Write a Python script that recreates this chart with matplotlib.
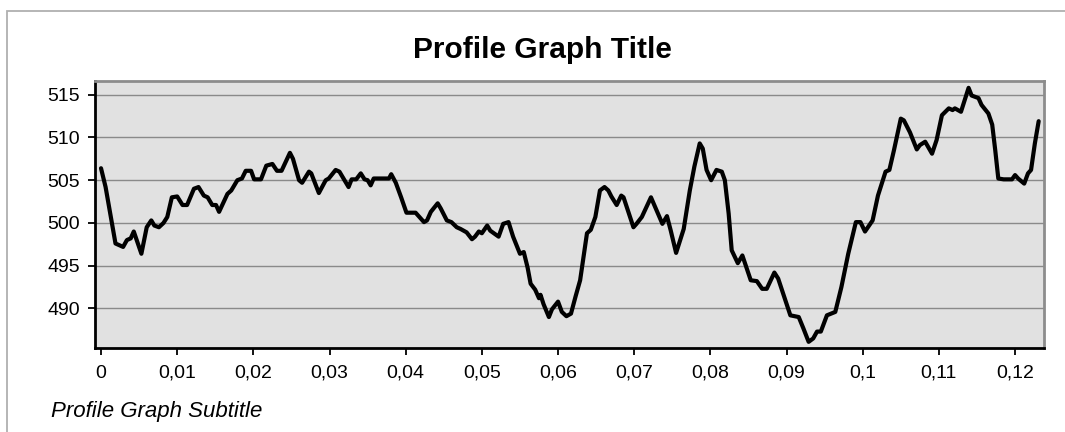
import matplotlib
matplotlib.use("Agg")
import matplotlib.pyplot as plt
from matplotlib.patches import Rectangle
from matplotlib.ticker import FixedLocator, FixedFormatter

# Profile: distance along the line vs. elevation
distance = [
    0.0000, 0.0006, 0.0019, 0.0029, 0.0034, 0.0039, 0.0043, 0.0053, 0.0060, 0.0066,
    0.0070, 0.0076, 0.0082, 0.0087, 0.0093, 0.0100, 0.0107, 0.0113, 0.0122, 0.0128,
    0.0135, 0.0140, 0.0146, 0.0151, 0.0155, 0.0166, 0.0171, 0.0179, 0.0185, 0.0190,
    0.0197, 0.0201, 0.0210, 0.0217, 0.0225, 0.0231, 0.0237, 0.0248, 0.0252, 0.0260,
    0.0264, 0.0273, 0.0276, 0.0286, 0.0295, 0.0299, 0.0308, 0.0313, 0.0325, 0.0329,
    0.0335, 0.0341, 0.0346, 0.0350, 0.0354, 0.0358, 0.0378, 0.0381, 0.0387, 0.0394,
    0.0401, 0.0413, 0.0424, 0.0428, 0.0433, 0.0442, 0.0446, 0.0454, 0.0460, 0.0467,
    0.0472, 0.0480, 0.0487, 0.0491, 0.0496, 0.0500, 0.0507, 0.0511, 0.0522, 0.0528,
    0.0535, 0.0541, 0.0550, 0.0555, 0.0560, 0.0564, 0.0570, 0.0575, 0.0577, 0.0581,
    0.0588, 0.0592, 0.0600, 0.0605, 0.0611, 0.0617, 0.0623, 0.0629, 0.0638, 0.0643,
    0.0649, 0.0655, 0.0661, 0.0666, 0.0670, 0.0677, 0.0683, 0.0686, 0.0699, 0.0703,
    0.0710, 0.0722, 0.0737, 0.0743, 0.0748, 0.0755, 0.0765, 0.0773, 0.0779, 0.0786,
    0.0790, 0.0795, 0.0801, 0.0808, 0.0815, 0.0819, 0.0824, 0.0828, 0.0836, 0.0842,
    0.0848, 0.0853, 0.0861, 0.0868, 0.0874, 0.0884, 0.0889, 0.0905, 0.0916, 0.0922,
    0.0929, 0.0935, 0.0940, 0.0945, 0.0953, 0.0964, 0.0972, 0.0981, 0.0991, 0.0997,
    0.1003, 0.1013, 0.1020, 0.1030, 0.1035, 0.1041, 0.1050, 0.1054, 0.1062, 0.1071,
    0.1075, 0.1082, 0.1091, 0.1097, 0.1104, 0.1113, 0.1118, 0.1121, 0.1129, 0.1135,
    0.1139, 0.1143, 0.1152, 0.1156, 0.1165, 0.1170, 0.1174, 0.1178, 0.1185, 0.1196,
    0.1200, 0.1204, 0.1212, 0.1217, 0.1221, 0.1226, 0.1231,
]
elevation = [
    506.4, 504.2, 497.6, 497.2, 498.0, 498.2, 499.0, 496.4, 499.5, 500.3,
    499.7, 499.5, 500.0, 500.7, 503.0, 503.1, 502.1, 502.1, 504.0, 504.2,
    503.2, 503.0, 502.1, 502.1, 501.3, 503.4, 503.8, 505.0, 505.2, 506.1,
    506.1, 505.1, 505.1, 506.7, 506.9, 506.1, 506.1, 508.2, 507.5, 505.0,
    504.7, 506.0, 505.8, 503.5, 505.0, 505.2, 506.2, 506.0, 504.2, 505.1,
    505.1, 505.8, 505.1, 505.0, 504.4, 505.2, 505.2, 505.7, 504.7, 503.0,
    501.2, 501.2, 500.1, 500.3, 501.3, 502.3, 501.7, 500.3, 500.1, 499.5,
    499.3, 498.9, 498.1, 498.4, 499.0, 498.8, 499.7, 499.1, 498.4, 499.9,
    500.1, 498.4, 496.4, 496.6, 494.8, 492.9, 492.2, 491.2, 491.6, 490.5,
    489.0, 489.9, 490.8, 489.6, 489.1, 489.4, 491.4, 493.3, 498.8, 499.2,
    500.7, 503.8, 504.2, 503.8, 503.1, 502.1, 503.2, 503.0, 499.5, 499.9,
    500.7, 503.0, 499.9, 500.8, 499.1, 496.5, 499.3, 503.8, 506.6, 509.3,
    508.7, 506.2, 505.0, 506.2, 506.0, 505.0, 501.1, 496.8, 495.3, 496.2,
    494.6, 493.3, 493.2, 492.3, 492.3, 494.2, 493.5, 489.2, 489.0, 487.7,
    486.1, 486.5, 487.3, 487.3, 489.2, 489.6, 492.5, 496.4, 500.1, 500.1,
    499.0, 500.3, 503.2, 506.0, 506.2, 508.5, 512.2, 512.0, 510.6, 508.6,
    509.1, 509.5, 508.1, 509.7, 512.6, 513.4, 513.2, 513.4, 513.0, 514.7,
    515.8, 514.9, 514.6, 513.8, 512.8, 511.5, 508.5, 505.2, 505.1, 505.1,
    505.6, 505.2, 504.6, 505.8, 506.2, 509.3, 511.9,
]

x_ticks = [0.0, 0.01, 0.02, 0.03, 0.04, 0.05, 0.06, 0.07, 0.08, 0.09, 0.10, 0.11, 0.12]
x_tick_labels = ["0", "0,01", "0,02", "0,03", "0,04", "0,05", "0,06", "0,07",
                 "0,08", "0,09", "0,1", "0,11", "0,12"]
y_ticks = [490, 495, 500, 505, 510, 515]
y_tick_labels = ["490", "495", "500", "505", "510", "515"]

title = "Profile Graph Title"
subtitle = "Profile Graph Subtitle"

W, H = 1065, 432
plt.rcParams["font.family"] = ["Liberation Sans", "DejaVu Sans"]

fig = plt.figure(figsize=(W / 100, H / 100), dpi=100)
fig.patch.set_facecolor("white")

# outer chart frame
fig.patches.append(Rectangle((7 / W, -0.05), 1.2, 1 - 11 / H + 0.05,
                             transform=fig.transFigure, fill=False,
                             edgecolor="#b0b0b0", linewidth=1.3))

ax = fig.add_axes([95 / W, 1 - 348 / H, (1044 - 95) / W, (348 - 81) / H])
ax.set_facecolor("#e1e1e1")

ax.set_xlim(-0.00079, 0.1238)
ax.set_ylim(485.38, 516.6)

ax.yaxis.grid(True, color="#8a8a8a", linewidth=1.0)
ax.set_axisbelow(True)

ax.plot(distance, elevation, color="black", linewidth=3.0,
        solid_joinstyle="round", solid_capstyle="round", zorder=3)

ax.xaxis.set_major_locator(FixedLocator(x_ticks))
ax.xaxis.set_major_formatter(FixedFormatter(x_tick_labels))
ax.yaxis.set_major_locator(FixedLocator(y_ticks))
ax.yaxis.set_major_formatter(FixedFormatter(y_tick_labels))

ax.tick_params(axis="both", direction="out", length=5, width=1.3,
               color="black", labelsize=14, labelcolor="black")
ax.tick_params(axis="x", pad=7)
ax.tick_params(axis="y", pad=6)

for side in ("left", "bottom"):
    ax.spines[side].set_color("black")
    ax.spines[side].set_linewidth(2.0)
for side in ("top", "right"):
    ax.spines[side].set_color("#8c8c8c")
    ax.spines[side].set_linewidth(2.0)

fig.text(542.5 / W, 1 - 50 / H, title, ha="center", va="center",
         fontsize=21.5, fontweight="bold", color="black")
fig.text(51 / W, 1 - 412 / H, subtitle, ha="left", va="center",
         fontsize=16, fontstyle="italic", color="black")

fig.savefig("out.png", dpi=100)
